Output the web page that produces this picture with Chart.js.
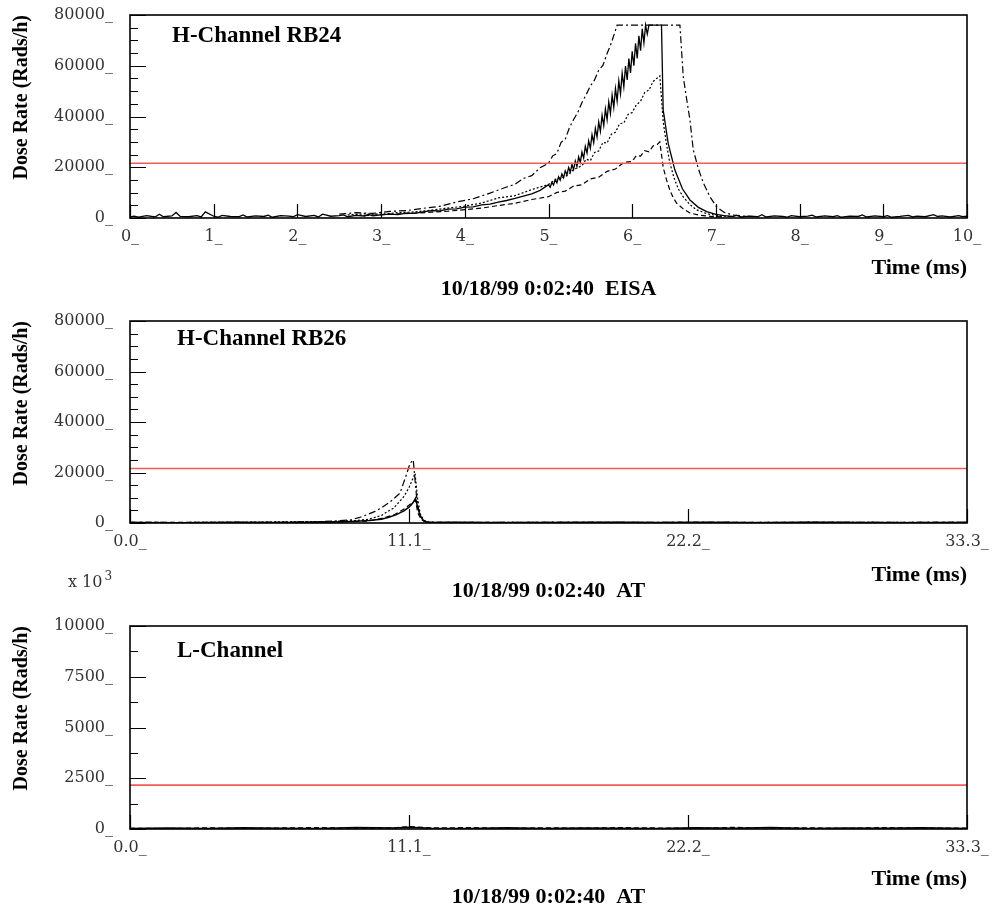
<!DOCTYPE html>
<html>
<head>
<meta charset="utf-8">
<script src="https://cdn.jsdelivr.net/npm/chart.js@4.4.1/dist/chart.umd.min.js"></script>
<style>
  html, body { margin: 0; padding: 0; background: #fff; }
  body { width: 995px; height: 911px; position: relative; overflow: hidden; }
  canvas { position: absolute; left: 0; }
</style>
</head>
<body>
<canvas id="c1" width="1020" height="330" style="top:-25px"></canvas>
<canvas id="c2" width="1020" height="324" style="top:281px"></canvas>
<canvas id="c3" width="1020" height="351" style="top:560px"></canvas>
<script>
// ---------------- DATA ----------------
// Thresholds (red lines)
const thresholdH = 21600;
const thresholdL = 2160;

// Tick values / labels
const xTicksEISA = [0, 1, 2, 3, 4, 5, 6, 7, 8, 9, 10];
const xLabelsEISA = ['0_', '1_', '2_', '3_', '4_', '5_', '6_', '7_', '8_', '9_', '10_'];
const xTicksAT = [0, 11.1, 22.2, 33.3];
const xLabelsAT = ['0.0_', '11.1_', '22.2_', '33.3_'];
const yTicksH = [0, 20000, 40000, 60000, 80000];
const yLabelsH = ['0_', '20000_', '40000_', '60000_', '80000_'];
const yTicksL = [0, 2500, 5000, 7500, 10000];
const yLabelsL = ['0_', '2500_', '5000_', '7500_', '10000_'];

// ---- Panel 1: H-Channel RB24 (EISA), time in ms ----
const tRB24Solid = [0.0,0.05,0.1,0.15,0.2,0.3,0.35,0.4,0.5,0.55,0.6,0.7,0.8,0.85,0.9,1.0,1.05,1.1,1.2,1.3,1.35,1.4,1.5,1.6,1.65,1.7,1.8,1.9,1.95,2.0,2.1,2.2,2.25,2.3,2.4,2.5,2.55,2.6,2.7,2.8,2.85,2.9,3.0,3.1,3.2,3.3,3.4,3.5,3.6,3.7,3.8,3.9,4.0,4.1,4.2,4.3,4.4,4.5,4.6,4.7,4.8,4.9,
  5.0,5.02,5.04,5.06,5.08,5.1,5.12,5.14,5.16,5.18,5.2,5.22,5.24,5.26,5.28,5.3,5.32,5.34,5.36,5.38,5.4,5.42,5.44,5.46,5.48,5.5,5.52,5.54,5.56,5.58,
  5.6,5.62,5.64,5.66,5.68,5.7,5.72,5.74,5.76,5.78,5.8,5.82,5.84,5.86,5.88,5.9,5.92,5.94,5.96,5.98,6.0,6.02,6.04,6.06,6.08,6.1,6.12,6.14,6.16,6.18,6.2,
  6.35,6.37,6.43,6.51,6.6,6.69,6.79,6.89,7.0,7.1,7.2,7.25,7.3,7.4,7.5,7.55,7.6,7.7,7.8,7.85,7.9,8.0,8.1,8.15,8.2,8.3,8.4,8.45,8.5,8.6,8.7,8.75,8.8,8.9,9.0,9.05,9.1,9.2,9.3,9.35,9.4,9.5,9.6,9.65,9.7,9.8,9.9,9.95,10.0];
const vRB24Solid = [400,700,300,600,900,400,1500,500,800,2200,600,500,900,400,2400,700,300,1000,600,500,1200,400,800,600,1100,300,900,700,500,1300,600,1000,400,1500,700,900,1200,500,1000,800,1400,900,1200,1500,1300,1900,1800,2400,2900,2800,3500,3600,4300,4400,5200,5500,6300,6900,7700,8600,9500,10900,
  13100,12100,14000,13000,15100,13900,16200,14900,17400,15900,18600,17000,19900,18100,21100,19100,22500,20300,24100,21900,26000,23600,28200,25600,30400,27500,32800,29700,35300,31900,
  37800,34100,40400,36400,43000,38700,45700,41200,48400,43600,51100,46100,54000,48900,57000,51700,59900,54400,62800,57200,65700,60000,68800,62900,71800,65900,74600,69000,76000,72500,76000,
  76000,42600,29400,18900,11500,7100,4200,2500,1400,900,600,1000,400,700,500,1300,400,800,600,300,900,500,700,1100,400,800,500,900,300,700,600,1200,400,800,500,900,300,600,1000,400,700,500,1300,600,800,400,900,500,700];

const tRB24DashDot = [2.5,2.7,2.9,3.1,3.3,3.5,3.7,3.9,4.1,4.3,4.5,4.6,4.7,4.8,4.9,5.0,5.05,5.1,5.15,5.2,5.25,5.3,5.35,5.4,5.45,5.5,5.55,5.6,5.65,5.7,5.75,5.82,6.57,6.61,6.65,6.69,6.73,6.79,6.85,6.93,7.01,7.1,7.2,7.35,7.5];
const vRB24DashDot = [1500,2100,1800,2600,2900,3800,4600,6300,7600,9800,12200,13300,15600,16700,19800,21600,24500,25400,29800,31000,35600,38800,41600,45500,48600,52000,54400,58300,60100,64800,68900,76000,76000,55700,47000,38600,26800,19500,13800,8300,4300,2200,1200,700,500];

const tRB24Dotted = [2.6,2.8,3.0,3.2,3.4,3.6,3.8,4.0,4.2,4.4,4.6,4.8,5.0,5.1,5.2,5.3,5.4,5.45,5.5,5.55,5.6,5.65,5.7,5.75,5.8,5.85,5.9,5.95,6.0,6.05,6.1,6.15,6.2,6.25,6.3,6.33,6.37,6.41,6.45,6.5,6.55,6.61,6.69,6.77,6.9,7.05,7.2];
const vRB24Dotted = [1200,1600,1500,2100,2400,3100,3900,4700,5900,7900,8800,11200,13200,15500,16200,19100,20600,23200,22600,25800,26400,29800,29500,33000,33800,37200,37400,40800,41600,44600,46000,49500,50400,53800,55200,56000,38000,29000,21700,15800,11500,8300,5300,3200,1600,800,500];

const tRB24Dashed = [2.8,3.0,3.2,3.4,3.6,3.8,4.0,4.2,4.4,4.6,4.8,5.0,5.1,5.2,5.3,5.4,5.5,5.6,5.7,5.8,5.9,6.0,6.05,6.1,6.15,6.2,6.25,6.3,6.33,6.37,6.41,6.45,6.49,6.53,6.61,6.69,6.8,6.95,7.1];
const vRB24Dashed = [900,1300,1600,1900,2300,2700,3300,3900,4900,5800,7300,8400,10100,10600,12600,13100,15400,16100,18400,19300,21900,22300,24600,24400,26500,26100,28400,29000,30000,20000,15000,11000,8000,5900,3600,2000,1100,600,400];

// ---- Panel 2: H-Channel RB26 (AT) ----
const tRB26Solid = [0,2,4,6,7.5,8.5,9.0,9.5,10.0,10.3,10.6,10.9,11.1,11.25,11.36,11.45,11.55,11.65,11.8,12.0,13,15,17,19,21,23,25,27,29,31,33.3];
const vRB26Solid = [200,100,300,200,300,500,700,1000,1500,2300,3300,4800,6300,7900,9800,6000,2800,1200,400,200,300,100,200,300,150,250,100,300,200,100,200];

const tRB26DashDot = [0,3,6,7.5,8.2,8.75,9.1,9.41,9.75,10.08,10.4,10.74,10.87,11.0,11.14,11.27,11.33,11.4,11.48,11.58,11.7,11.9,13,16,19,22,25,28,31,33.3];
const vRB26DashDot = [250,150,300,500,800,1200,2100,3200,4600,6500,8800,11800,15500,19200,23600,25000,18000,10500,5500,2200,700,250,150,300,200,300,150,250,200,300];

const tRB26Dotted = [0,4,8,9.0,9.5,10.0,10.5,10.9,11.1,11.25,11.34,11.45,11.55,11.7,11.9,14,18,22,26,30,33.3];
const vRB26Dotted = [150,250,600,1000,1500,3000,6000,10500,14000,17500,19700,9000,3500,1000,300,200,250,150,300,200,250];

const tRB26Dashed = [0,5,8.5,9.5,10.0,10.5,10.9,11.2,11.36,11.45,11.6,11.8,13,17,21,25,29,33.3];
const vRB26Dashed = [300,200,500,800,1800,3200,5500,7800,9000,4000,1200,300,200,300,200,300,200,300];

// ---- Panel 3: L-Channel (AT) ----
const tLChan = [0,1.5,3,4.5,6,7.5,9,10.5,11.1,12,13.5,15,16.5,18,19.5,21,22.5,24,25.5,27,28.5,30,31.5,33.3];
const vLChanSolid = [30,50,20,60,40,30,70,50,90,40,30,60,20,50,40,30,60,40,70,30,50,40,60,30];
const vLChanDashed = [40,20,60,30,50,70,30,60,120,50,70,30,60,40,70,50,30,80,40,60,30,70,40,50];

// ---------------- HELPERS ----------------
const pts = (t, v) => t.map((x, i) => ({ x: x, y: v[i] }));
const SERIF = "'Liberation Serif', 'Times New Roman', serif";
const TICKFONT = { family: "'DejaVu Serif', serif", size: 16 };

const framePlugin = {
  id: 'frame',
  afterDatasetsDraw(chart, args, o) {
    const { ctx, chartArea: a, scales } = chart;
    const xs = scales.x, ys = scales.y;
    ctx.save();
    ctx.strokeStyle = '#000';
    ctx.lineWidth = 1.2;
    ctx.beginPath();
    ys.ticks.forEach(t => {
      const y = Math.round(ys.getPixelForValue(t.value)) + 0.5;
      ctx.moveTo(a.left, y); ctx.lineTo(a.left + 16, y);
    });
    for (let v = ys.min + o.minorStep; v < ys.max; v += o.minorStep) {
      const y = Math.round(ys.getPixelForValue(v)) + 0.5;
      ctx.moveTo(a.left, y); ctx.lineTo(a.left + 8, y);
    }
    xs.ticks.forEach(t => {
      const x = Math.round(xs.getPixelForValue(t.value)) + 0.5;
      ctx.moveTo(x, a.bottom); ctx.lineTo(x, a.bottom - 14);
    });
    ctx.stroke();
    ctx.lineWidth = 1.6;
    ctx.strokeRect(a.left, a.top, a.right - a.left, a.bottom - a.top);
    ctx.fillStyle = '#000';
    ctx.font = 'bold 23px ' + SERIF;
    ctx.textAlign = 'left';
    ctx.textBaseline = 'alphabetic';
    ctx.fillText(o.title, a.left + o.titleDx, a.top + o.titleDy);
    ctx.font = 'bold 22px ' + SERIF;
    ctx.textAlign = 'center';
    ctx.textBaseline = 'middle';
    ctx.fillText(o.date, (a.left + a.right) / 2, o.dateY);
    if (o.exponent) {
      ctx.font = "16px 'DejaVu Serif', serif";
      ctx.fillStyle = '#333';
      ctx.textAlign = 'left';
      ctx.textBaseline = 'middle';
      const x0 = a.left - 62;
      ctx.fillText('x 10', x0, o.expY);
      const w = ctx.measureText('x 10').width;
      ctx.font = "12px 'DejaVu Serif', serif";
      ctx.fillText('3', x0 + w + 2, o.expY - 6);
    }
    ctx.restore();
  }
};

function makeChart(id, cfg) {
  const ds = [
    { data: pts([cfg.xMin, cfg.xMax], [cfg.threshold, cfg.threshold]), borderColor: '#f25a5a', borderWidth: 1.6 },
  ].concat(cfg.series.map(s => ({
    data: pts(s.t, s.v), borderColor: '#000', borderWidth: s.w || 1.2, borderDash: s.dash || []
  })));
  ds.forEach(d => { d.showLine = true; d.pointRadius = 0; d.tension = 0; d.fill = false; });
  return new Chart(document.getElementById(id), {
    type: 'scatter',
    data: { datasets: ds },
    options: {
      responsive: false,
      animation: false,
      devicePixelRatio: 1,
      events: [],
      layout: { padding: { top: cfg.padTop, left: 0, right: 53, bottom: 0 } },
      plugins: {
        legend: { display: false },
        tooltip: { enabled: false },
        frame: cfg.frame
      },
      scales: {
        x: {
          type: 'linear', min: cfg.xMin, max: cfg.xMax,
          grid: { display: false, drawTicks: false },
          border: { display: false },
          afterBuildTicks: s => { s.ticks = cfg.xTicks.map(v => ({ value: v })); },
          afterFit: s => { s.height = cfg.xAxisH; },
          ticks: { autoSkip: false, maxRotation: 0, padding: 9, font: TICKFONT, color: '#333',
                   callback: (v, i) => cfg.xLabels[i] },
          title: { display: true, text: 'Time (ms)', align: 'end', color: '#000',
                   font: { family: SERIF, weight: 'bold', size: 22 },
                   padding: { top: 0, bottom: cfg.timePad } }
        },
        y: {
          type: 'linear', min: 0, max: cfg.yMax,
          grid: { display: false, drawTicks: false },
          border: { display: false },
          afterBuildTicks: s => { s.ticks = cfg.yTicks.map(v => ({ value: v })); },
          afterFit: s => { s.width = 130; },
          ticks: { autoSkip: false, padding: 17, font: TICKFONT, color: '#333',
                   callback: (v, i) => cfg.yLabels[i] },
          title: { display: true, text: 'Dose Rate (Rads/h)', align: 'end', color: '#000',
                   font: { family: SERIF, weight: 'bold', size: 20 },
                   padding: { top: 10, bottom: 0 } }
        }
      }
    },
    plugins: [framePlugin]
  });
}

makeChart('c1', {
  xMin: 0, xMax: 10, yMax: 80000, threshold: thresholdH,
  xTicks: xTicksEISA, xLabels: xLabelsEISA, yTicks: yTicksH, yLabels: yLabelsH,
  padTop: 40, xAxisH: 87, timePad: 23.8,
  series: [
    { t: tRB24Solid, v: vRB24Solid, w: 1.3 },
    { t: tRB24DashDot, v: vRB24DashDot, dash: [7, 3, 2, 3] },
    { t: tRB24Dotted, v: vRB24Dotted, dash: [2, 2] },
    { t: tRB24Dashed, v: vRB24Dashed, dash: [5, 3] }
  ],
  frame: { title: 'H-Channel RB24', titleDx: 42, titleDy: 27, date: '10/18/99 0:02:40  EISA', dateY: 314, minorStep: 5000 }
});

makeChart('c2', {
  xMin: 0, xMax: 33.3, yMax: 80000, threshold: thresholdH,
  xTicks: xTicksAT, xLabels: xLabelsAT, yTicks: yTicksH, yLabels: yLabelsH,
  padTop: 40, xAxisH: 82, timePad: 16.8,
  series: [
    { t: tRB26Solid, v: vRB26Solid, w: 1.5 },
    { t: tRB26DashDot, v: vRB26DashDot, dash: [7, 3, 2, 3] },
    { t: tRB26Dotted, v: vRB26Dotted, dash: [2, 2] },
    { t: tRB26Dashed, v: vRB26Dashed, dash: [5, 3] }
  ],
  frame: { title: 'H-Channel RB26', titleDx: 47, titleDy: 24, date: '10/18/99 0:02:40  AT', dateY: 310, minorStep: 5000 }
});

makeChart('c3', {
  xMin: 0, xMax: 33.3, yMax: 10000, threshold: thresholdL,
  xTicks: xTicksAT, xLabels: xLabelsAT, yTicks: yTicksL, yLabels: yLabelsL,
  padTop: 66, xAxisH: 82, timePad: 18.8,
  series: [
    { t: tLChan, v: vLChanSolid, w: 1.5 },
    { t: tLChan, v: vLChanDashed, dash: [5, 3] }
  ],
  frame: { title: 'L-Channel', titleDx: 47, titleDy: 31, date: '10/18/99 0:02:40  AT', dateY: 337, minorStep: 1250, exponent: true, expY: 23 }
});
</script>
</body>
</html>
